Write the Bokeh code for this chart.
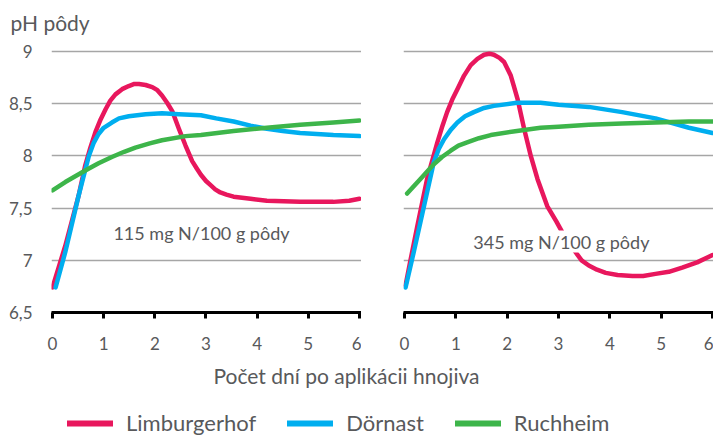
from bokeh.plotting import figure
from bokeh.layouts import row, column
from bokeh.models import FixedTicker, Label, Legend, LegendItem, Range1d
from bokeh.embed import file_html
from bokeh.resources import INLINE

# ---------------- data ----------------
# Panel 1: 115 mg N/100 g pody
l_limb_x = [0, 0.25, 0.51, 0.64, 0.74, 0.84, 0.94, 1.04, 1.13, 1.23, 1.36, 1.49, 1.6, 1.69, 1.82, 1.95, 2.05, 2.14, 2.24, 2.34, 2.47, 2.6, 2.73, 2.82, 2.9, 3.0, 3.09, 3.18, 3.28, 3.4, 3.54, 3.87, 4.19, 4.84, 5.49, 5.8, 6.0]
l_limb_y = [6.74, 7.14, 7.62, 7.91, 8.08, 8.23, 8.35, 8.45, 8.53, 8.59, 8.64, 8.67, 8.69, 8.69, 8.68, 8.66, 8.63, 8.58, 8.51, 8.43, 8.26, 8.10, 7.95, 7.88, 7.82, 7.76, 7.72, 7.68, 7.65, 7.63, 7.61, 7.59, 7.57, 7.56, 7.56, 7.57, 7.59]
l_dorn_x = [0.06, 0.25, 0.51, 0.71, 0.8, 0.9, 1.0, 1.16, 1.3, 1.49, 1.82, 2.14, 2.47, 2.9, 3.2, 3.54, 3.87, 4.19, 4.5, 4.84, 5.49, 6.0]
l_dorn_y = [6.74, 7.08, 7.62, 8.0, 8.12, 8.21, 8.27, 8.32, 8.36, 8.38, 8.40, 8.41, 8.40, 8.39, 8.36, 8.33, 8.29, 8.26, 8.24, 8.22, 8.20, 8.19]
l_ruch_x = [0, 0.25, 0.64, 0.9, 1.16, 1.4, 1.62, 1.9, 2.14, 2.6, 2.9, 3.54, 4.19, 4.84, 5.49, 6.0]
l_ruch_y = [7.67, 7.75, 7.86, 7.93, 7.99, 8.04, 8.08, 8.12, 8.15, 8.19, 8.20, 8.24, 8.27, 8.30, 8.32, 8.34]

# Panel 2: 345 mg N/100 g pody
r_limb_x = [0.02, 0.12, 0.25, 0.44, 0.64, 0.74, 0.83, 0.93, 1.03, 1.16, 1.29, 1.42, 1.55, 1.65, 1.74, 1.85, 1.94, 2.0, 2.07, 2.13, 2.2, 2.33, 2.46, 2.59, 2.78, 2.96, 3.15, 3.33, 3.45, 3.59, 3.75, 3.92, 4.15, 4.44, 4.65, 4.89, 5.15, 5.41, 5.7, 6.0]
r_limb_y = [6.76, 7.01, 7.33, 7.78, 8.13, 8.29, 8.42, 8.54, 8.64, 8.77, 8.87, 8.93, 8.97, 8.98, 8.97, 8.94, 8.90, 8.84, 8.77, 8.67, 8.55, 8.26, 8.0, 7.78, 7.52, 7.37, 7.2, 7.08, 7.0, 6.95, 6.91, 6.88, 6.86, 6.85, 6.85, 6.87, 6.89, 6.93, 6.98, 7.05]
r_dorn_x = [0.02, 0.18, 0.38, 0.57, 0.67, 0.77, 0.9, 1.03, 1.18, 1.35, 1.55, 1.74, 2.19, 2.65, 3.0, 3.59, 4.24, 4.89, 5.54, 6.0]
r_dorn_y = [6.74, 7.08, 7.52, 7.94, 8.07, 8.16, 8.25, 8.32, 8.38, 8.42, 8.46, 8.48, 8.51, 8.51, 8.49, 8.47, 8.42, 8.36, 8.27, 8.22]
r_ruch_x = [0.05, 0.31, 0.57, 0.73, 0.9, 1.05, 1.22, 1.45, 1.68, 2.19, 2.65, 3.0, 3.59, 4.24, 4.89, 5.54, 6.0]
r_ruch_y = [7.64, 7.78, 7.92, 7.99, 8.05, 8.10, 8.13, 8.17, 8.20, 8.24, 8.27, 8.28, 8.30, 8.31, 8.32, 8.33, 8.33]

series_names = ["Limburgerhof", "Dörnast", "Ruchheim"]
series_colors = ["#E8175D", "#00AEEF", "#3DB54A"]
panel_labels = ["115 mg N/100 g pôdy", "345 mg N/100 g pôdy"]
y_ticks = [6.5, 7, 7.5, 8, 8.5, 9]
y_tick_labels = ["6,5", "7", "7,5", "8", "8,5", "9"]
x_ticks = [0, 1, 2, 3, 4, 5, 6]
y_title = "pH pôdy"
x_title = "Počet dní po aplikácii hnojiva"

FONT = "Lato"
GREY = "#58595B"
GRID = "#A6A6A6"
LW = 4.5

HEAD_H = 36
PANEL_H = 324


def strip(height):
    f = figure(width=713, height=height, output_backend="svg", toolbar_location=None,
               x_range=Range1d(0, 713), y_range=Range1d(0, height), min_border=0)
    f.axis.visible = False
    f.grid.visible = False
    f.outline_line_color = None
    f.background_fill_color = None
    f.border_fill_color = None
    return f


def make_panel(width, left_border, x_end, data, label_text, label_x, label_y):
    p = figure(width=width, height=PANEL_H, output_backend="svg", toolbar_location=None,
               x_range=Range1d(-0.02, x_end), y_range=Range1d(6.5, 9.02),
               min_border_left=left_border, min_border_right=0,
               min_border_top=13, min_border_bottom=48)
    p.outline_line_color = None
    p.background_fill_color = None
    p.border_fill_color = None
    # y axis
    p.yaxis.ticker = FixedTicker(ticks=y_ticks)
    p.yaxis.major_label_overrides = {t: s for t, s in zip(y_ticks, y_tick_labels)}
    p.yaxis.axis_line_color = None
    p.yaxis.major_tick_line_color = None
    p.yaxis.minor_tick_line_color = None
    p.yaxis.major_label_standoff = 13
    p.yaxis.major_label_text_font = FONT
    p.yaxis.major_label_text_font_size = "17px"
    p.yaxis.major_label_text_color = GREY
    # x axis
    p.xaxis.ticker = FixedTicker(ticks=x_ticks)
    p.xaxis.axis_line_color = "black"
    p.xaxis.axis_line_width = 3
    p.xaxis.major_tick_line_color = "black"
    p.xaxis.major_tick_line_width = 3
    p.xaxis.major_tick_in = 0
    p.xaxis.major_tick_out = 6
    p.xaxis.minor_tick_line_color = None
    p.xaxis.major_label_standoff = 18
    p.xaxis.major_label_text_font = FONT
    p.xaxis.major_label_text_font_size = "17px"
    p.xaxis.major_label_text_color = GREY
    # grid
    p.xgrid.grid_line_color = None
    p.ygrid.ticker = FixedTicker(ticks=y_ticks)
    p.ygrid.grid_line_color = GRID
    p.ygrid.grid_line_width = 1.6

    for (xs, ys), c in zip(data, series_colors):
        p.line(xs, ys, line_color=c, line_width=LW, line_cap="round", line_join="round")

    lab = Label(x=label_x, y=label_y, text=label_text, text_font=FONT, text_font_size="18px",
                text_color=GREY, text_baseline="middle", text_align="left",
                background_fill_color="white", background_fill_alpha=1.0)
    p.add_layout(lab)
    return p


left = make_panel(361, 51, 6.04,
                  [(l_limb_x, l_limb_y), (l_dorn_x, l_dorn_y), (l_ruch_x, l_ruch_y)],
                  panel_labels[0], 1.19, 7.26)
right = make_panel(352, 42, 6.02,
                   [(r_limb_x, r_limb_y), (r_dorn_x, r_dorn_y), (r_ruch_x, r_ruch_y)],
                   panel_labels[1], 1.34, 7.18)
right.yaxis.visible = False

# header strip: y axis title
head = strip(HEAD_H)
head.add_layout(Label(x=10, y=HEAD_H - 22, text=y_title, text_font=FONT,
                      text_font_size="21px", text_color=GREY,
                      text_align="left", text_baseline="middle"))

# bottom strip: x title + legend
bottom = strip(76)
bottom.add_layout(Label(x=346, y=61, text=x_title, text_font=FONT, text_font_size="21px",
                        text_color=GREY, text_align="center", text_baseline="middle"))

nan = float("nan")
items = []
for name, c in zip(series_names, series_colors):
    r = bottom.line([nan], [nan], line_color=c, line_width=6, line_cap="round")
    items.append(LegendItem(label=name, renderers=[r]))
legend = Legend(items=items, orientation="horizontal", location=(67, 0),
                glyph_width=46, glyph_height=18, label_height=18, label_standoff=13,
                spacing=31, padding=0, margin=0, border_line_color=None,
                background_fill_alpha=0, label_text_font=FONT,
                label_text_font_size="22px", label_text_color=GREY)
bottom.add_layout(legend)

layout = column(head, row(left, right), bottom)
open("out.html", "w").write(file_html(layout, INLINE))
